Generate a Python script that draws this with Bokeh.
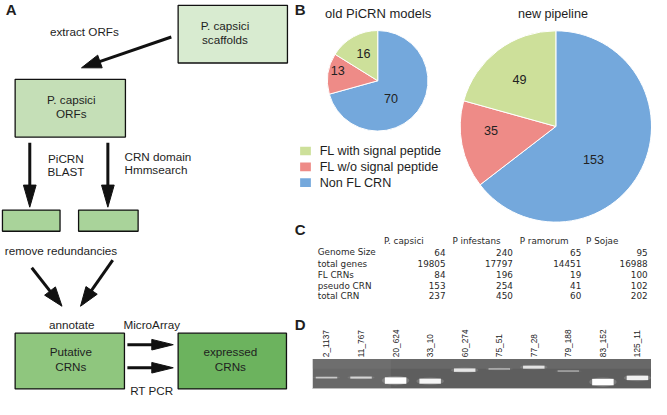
import numpy as np
from bokeh.plotting import figure
from bokeh.models import Range1d
from bokeh.core.properties import value
from bokeh.embed import file_html
from bokeh.resources import INLINE

# ---------------- data ----------------
pie_categories = ["FL with signal peptide", "FL w/o signal peptide", "Non FL CRN"]
pie_colors = ["#cde09a", "#ee8b87", "#74a8dc"]
old_models = [16, 13, 70]
new_pipeline = [49, 35, 153]

species = ["P. capsici", "P infestans", "P ramorum", "P Sojae"]
row_labels = ["Genome Size", "total genes", "FL CRNs", "pseudo CRN", "total CRN"]
genome_size = [64, 240, 65, 95]
total_genes = [19805, 17797, 14451, 16988]
fl_crns = [84, 196, 19, 100]
pseudo_crn = [153, 254, 41, 102]
total_crn = [237, 450, 60, 202]

gel_lanes = ["2_1137", "11_767", "20_624", "33_10", "60_274",
             "75_51", "77_28", "79_188", "83_152", "125_11"]
band_migration = [0.62, 0.62, 0.72, 0.74, 0.37, 0.33, 0.27, 0.40, 0.77, 0.63]
band_intensity = [0.45, 0.55, 1.00, 0.90, 0.75, 0.35, 0.70, 0.30, 1.00, 0.85]

flow_boxes = ["P. capsici\nscaffolds", "P. capsici\nORFs", "", "", "Putative\nCRNs", "expressed\nCRNs"]
flow_steps = ["extract ORFs", "PiCRN\nBLAST", "CRN domain\nHmmsearch",
              "remove redundancies", "annotate", "MicroArray", "RT PCR"]

# ---------------- figure ----------------
H = 415
def fy(y):
    return H - y

p = figure(width=651, height=399, x_range=Range1d(0, 667), y_range=Range1d(0, 415),
           output_backend="svg", toolbar_location=None,
           x_axis_location=None, y_axis_location=None, min_border=0,
           outline_line_color=None, background_fill_color="white")
p.grid.grid_line_color = None

SANS = value("Liberation Sans")
TXT = "#1e1e1e"

def label(x, y, t, size="11.7px", align="center", color=TXT, bold=False, font=SANS, angle=0):
    p.text(x=[x], y=[fy(y)], text=[t], text_align=align, text_baseline="middle",
           text_font=font, text_font_size=size, text_color=color,
           text_font_style="bold" if bold else "normal", angle=angle)

def box(x0, x1, y0, y1, color, txt, dx=-3):
    p.quad(left=[x0], right=[x1], top=[fy(y0)], bottom=[fy(y1)],
           fill_color=color, line_color="#111111", line_width=1.3)
    lines = [l for l in txt.split("\n") if l]
    cx = (x0 + x1) / 2 + dx
    cy = (y0 + y1) / 2 - 2
    for i, l in enumerate(lines):
        label(cx, cy + (i - (len(lines) - 1) / 2) * 15, l)

def arrow(xs, ys, xe, ye, hl=20, hw=13, lw=3):
    dx, dy = xe - xs, ye - ys
    L = np.hypot(dx, dy)
    ux, uy = dx / L, dy / L
    bx, by = xe - ux * hl, ye - uy * hl
    px, py = -uy, ux
    p.segment(x0=[xs], y0=[fy(ys)], x1=[bx + ux * 2], y1=[fy(by + uy * 2)],
              line_color="#111111", line_width=lw)
    p.patch(x=[xe, bx + px * hw / 2, bx - px * hw / 2],
            y=[fy(ye), fy(by + py * hw / 2), fy(by - py * hw / 2)],
            fill_color="#111111", line_color="#111111")

# ---------------- panel A: flowchart ----------------
label(11, 9, "A", size="15px", bold=True)
box(182, 294, 5, 65, "#d8ebd0", flow_boxes[0], dx=-8)
box(15, 128, 82, 142, "#c5dfb7", flow_boxes[1], dx=1)
box(2, 61, 218, 240, "#a9d39a", flow_boxes[2])
box(80, 141, 218, 240, "#a9d39a", flow_boxes[3])
box(15, 127, 346, 404, "#8fc67e", flow_boxes[4], dx=1)
box(182, 293, 346, 404, "#6cb35e", flow_boxes[5], dx=-2)

label(86, 32, flow_steps[0])
arrow(175, 38, 83, 70, hl=20, hw=14)
arrow(30, 148, 30, 215, hl=23, hw=13)
arrow(110, 148, 110, 215, hl=23, hw=13)
label(67, 164, "PiCRN")
label(67, 178, "BLAST")
label(127, 162, "CRN domain", align="left")
label(127, 176, "Hmmsearch", align="left")
label(62, 260, flow_steps[3])
arrow(32, 278, 63, 318, hl=20, hw=14)
arrow(115, 270, 82, 318, hl=20, hw=14)
label(73, 337, flow_steps[4])
label(155, 337, flow_steps[5])
arrow(130, 358, 177, 358, hl=22, hw=11)
arrow(130, 382, 177, 382, hl=22, hw=11)
label(155, 405.5, flow_steps[6])

# ---------------- panel B: pies ----------------
label(307, 9, "B", size="15px", bold=True)

def pie(cx, cy, r, vals, lab_f, lab_da):
    # clockwise from 12 o'clock: Non FL, FL w/o, FL with
    order = [2, 1, 0]
    total = float(sum(vals))
    a = np.pi / 2
    for k in order:
        sweep = vals[k] / total * 2 * np.pi
        a1 = a - sweep
        p.wedge(x=[cx], y=[fy(cy)], radius=r, start_angle=a1, end_angle=a,
                direction="anticlock", fill_color=pie_colors[k],
                line_color="white", line_width=1)
        mid = (a + a1) / 2 + np.radians(lab_da[k])
        lx = cx + np.cos(mid) * r * lab_f[k]
        ly = cy - np.sin(mid) * r * lab_f[k]
        label(lx, ly, str(vals[k]), size="12.6px", color="#222222")
        a = a1

pie(386.5, 83.5, 51.5, old_models, [0.62, 0.82, 0.45], [-2, -6, -17])
pie(569, 131, 98, new_pipeline, [0.63, 0.68, 0.53], [0, -7, -16])
label(387, 14, "old PiCRN models", size="13px")
label(566, 14, "new pipeline", size="12.6px")

for i, (c, col) in enumerate(zip(pie_categories, pie_colors)):
    yy = 156.5 + i * 16.5
    p.quad(left=[307], right=[318], top=[fy(yy - 4.5)], bottom=[fy(yy + 4.5)],
           fill_color=col, line_color=None)
    label(327, yy + 0.5, c, size="12.6px", align="left")

# ---------------- panel C: table ----------------
label(307, 238, "C", size="15px", bold=True)
TF = value("DejaVu Sans")
col_left = [393, 463, 532, 600]
col_right = [456, 525, 595, 663]
row_y = [262, 274, 285.5, 296.5, 307]
for s, xl in zip(species, col_left):
    label(xl, 250, s, size="8.8px", align="left", font=TF, color="#2a2a2a")
rows = [genome_size, total_genes, fl_crns, pseudo_crn, total_crn]
for lab, vals, yy in zip(row_labels, rows, row_y):
    label(325, yy, lab, size="8.8px", align="left", font=TF, color="#2a2a2a")
    for v, xr in zip(vals, col_right):
        label(xr, yy, str(v), size="8.8px", align="right", font=TF, color="#2a2a2a")

# ---------------- panel D: gel ----------------
label(307, 337, "D", size="15px", bold=True)
gel_top, gel_bot = 373, 404
p.quad(left=[320], right=[667], top=[fy(gel_top)], bottom=[fy(gel_bot)],
       fill_color="#5e5e5e", line_color=None)
p.quad(left=[320], right=[667], top=[fy(gel_top)], bottom=[fy(gel_top + 10)],
       fill_color="#767676", line_color=None, fill_alpha=0.45)
p.quad(left=[320], right=[400], top=[fy(gel_top)], bottom=[fy(gel_bot)],
       fill_color="#7a7a7a", line_color=None, fill_alpha=0.35)
p.quad(left=[320], right=[667], top=[fy(gel_bot - 1)], bottom=[fy(gel_bot)],
       fill_color="#bdbdbd", line_color=None)
lane_x = [334 + i * 35.4 for i in range(len(gel_lanes))]
bx = np.array(lane_x)
by = np.array([fy(gel_top + m * (gel_bot - gel_top)) for m in band_migration])
bi = np.array(band_intensity)
p.ellipse(x=bx, y=by, width=28, height=2.5 + 7 * bi ** 3, fill_color="white",
          fill_alpha=0.18 * bi, line_color=None)
p.rect(x=bx, y=by, width=22, height=1.2 + 5.5 * bi ** 3, fill_color="white",
       fill_alpha=0.3 + 0.7 * bi, line_color=None)
p.text(x=lane_x, y=[fy(371)] * len(gel_lanes), text=gel_lanes, angle=np.pi / 2,
       text_align="left", text_baseline="middle", text_font=SANS,
       text_font_size="8.3px", text_color="#222222")

open("out.html", "w").write(file_html(p, INLINE))
